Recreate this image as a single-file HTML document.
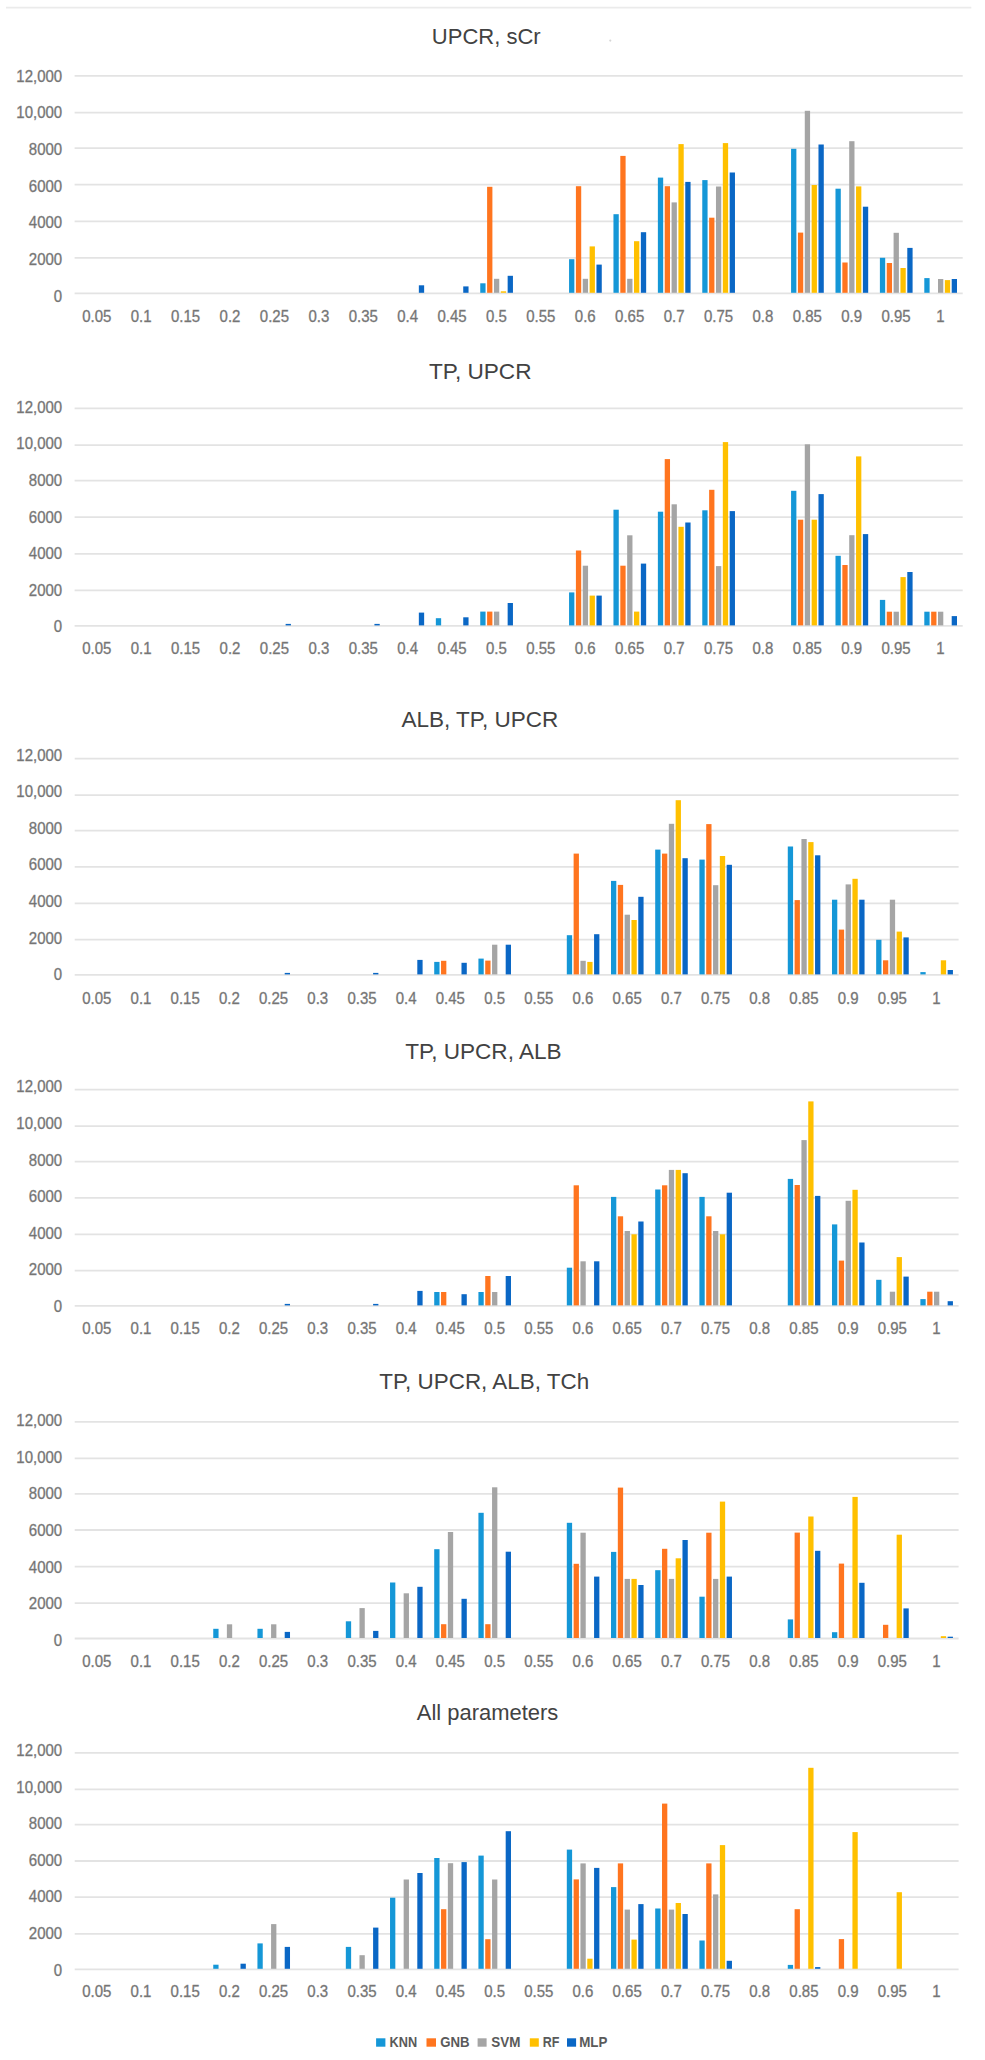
<!DOCTYPE html>
<html><head><meta charset="utf-8"><title>Charts</title>
<style>
html,body{margin:0;padding:0;background:#fff;}
body{width:985px;height:2060px;overflow:hidden;}
svg{display:block;font-family:"Liberation Sans",sans-serif;}
.ax{font-size:15.8px;fill:#6e6e6e;stroke:#8a8a8a;stroke-width:0.35px;}
.t{font-size:22.8px;fill:#424242;}
.lg{font-size:14.8px;fill:#5a5a5a;font-weight:bold;}
</style></head>
<body>
<svg width="985" height="2060" viewBox="0 0 985 2060">
<rect width="985" height="2060" fill="#fff"/>
<line x1="6" y1="7.6" x2="971.3" y2="7.6" stroke="#ebebeb" stroke-width="1.6"/><circle cx="610.3" cy="40.6" r="1.1" fill="#d6d6d6"/><g stroke="#e3e3e3" stroke-width="1.8"><line x1="74.6" y1="75.9" x2="962.7" y2="75.9"/><line x1="74.6" y1="112.6" x2="962.7" y2="112.6"/><line x1="74.6" y1="148.1" x2="962.7" y2="148.1"/><line x1="74.6" y1="184.7" x2="962.7" y2="184.7"/><line x1="74.6" y1="221.4" x2="962.7" y2="221.4"/><line x1="74.6" y1="257.8" x2="962.7" y2="257.8"/><line x1="74.6" y1="293.3" x2="962.7" y2="293.3"/></g><g fill="#1597d7"><rect x="480.25" y="283.3" width="5.3" height="9.5"/><rect x="569.06" y="259.2" width="5.3" height="33.6"/><rect x="613.46" y="214.2" width="5.3" height="78.6"/><rect x="657.87" y="177.6" width="5.3" height="115.2"/><rect x="702.27" y="180.1" width="5.3" height="112.7"/><rect x="791.08" y="148.8" width="5.3" height="144"/><rect x="835.49" y="188.7" width="5.3" height="104.1"/><rect x="879.89" y="257.8" width="5.3" height="35"/><rect x="924.3" y="278.1" width="5.3" height="14.7"/></g><g fill="#ff751f"><rect x="487.1" y="186.8" width="5.3" height="106"/><rect x="575.91" y="186.2" width="5.3" height="106.6"/><rect x="620.31" y="155.9" width="5.3" height="136.9"/><rect x="664.72" y="186.2" width="5.3" height="106.6"/><rect x="709.12" y="217.7" width="5.3" height="75.1"/><rect x="797.93" y="232.6" width="5.3" height="60.2"/><rect x="842.34" y="262.5" width="5.3" height="30.3"/><rect x="886.74" y="263" width="5.3" height="29.8"/></g><g fill="#a5a5a5"><rect x="493.95" y="278.8" width="5.3" height="14"/><rect x="582.76" y="278.8" width="5.3" height="14"/><rect x="627.16" y="278.8" width="5.3" height="14"/><rect x="671.57" y="202.4" width="5.3" height="90.4"/><rect x="715.97" y="186.5" width="5.3" height="106.3"/><rect x="804.78" y="110.8" width="5.3" height="182"/><rect x="849.19" y="141.2" width="5.3" height="151.6"/><rect x="893.59" y="232.8" width="5.3" height="60"/><rect x="938" y="279" width="5.3" height="13.8"/></g><g fill="#ffc000"><rect x="500.8" y="291.3" width="5.3" height="1.5"/><rect x="589.61" y="246.4" width="5.3" height="46.4"/><rect x="634.01" y="241.2" width="5.3" height="51.6"/><rect x="678.42" y="144.1" width="5.3" height="148.7"/><rect x="722.82" y="143.1" width="5.3" height="149.7"/><rect x="811.63" y="185" width="5.3" height="107.8"/><rect x="856.04" y="186.4" width="5.3" height="106.4"/><rect x="900.44" y="268" width="5.3" height="24.8"/><rect x="944.85" y="280.1" width="5.3" height="12.7"/></g><g fill="#0a67c5"><rect x="418.84" y="285.3" width="5.3" height="7.5"/><rect x="463.24" y="286.4" width="5.3" height="6.4"/><rect x="507.65" y="275.8" width="5.3" height="17"/><rect x="596.46" y="264.6" width="5.3" height="28.2"/><rect x="640.86" y="232.2" width="5.3" height="60.6"/><rect x="685.27" y="181.9" width="5.3" height="110.9"/><rect x="729.67" y="172.5" width="5.3" height="120.3"/><rect x="818.48" y="144.5" width="5.3" height="148.3"/><rect x="862.89" y="206.7" width="5.3" height="86.1"/><rect x="907.29" y="247.9" width="5.3" height="44.9"/><rect x="951.7" y="279" width="5.3" height="13.8"/></g><g class="ax"><g text-anchor="end"><text x="62.2" y="81.8" textLength="45.88" lengthAdjust="spacingAndGlyphs">12,000</text><text x="62.2" y="118.43" textLength="45.88" lengthAdjust="spacingAndGlyphs">10,000</text><text x="62.2" y="155.06" textLength="33.37" lengthAdjust="spacingAndGlyphs">8000</text><text x="62.2" y="191.69" textLength="33.37" lengthAdjust="spacingAndGlyphs">6000</text><text x="62.2" y="228.32" textLength="33.37" lengthAdjust="spacingAndGlyphs">4000</text><text x="62.2" y="264.95" textLength="33.37" lengthAdjust="spacingAndGlyphs">2000</text><text x="62.2" y="301.58" textLength="8.34" lengthAdjust="spacingAndGlyphs">0</text></g><g text-anchor="middle"><text x="96.8" y="321.9" textLength="29.19" lengthAdjust="spacingAndGlyphs">0.05</text><text x="141.21" y="321.9" textLength="20.85" lengthAdjust="spacingAndGlyphs">0.1</text><text x="185.61" y="321.9" textLength="29.19" lengthAdjust="spacingAndGlyphs">0.15</text><text x="230.02" y="321.9" textLength="20.85" lengthAdjust="spacingAndGlyphs">0.2</text><text x="274.42" y="321.9" textLength="29.19" lengthAdjust="spacingAndGlyphs">0.25</text><text x="318.83" y="321.9" textLength="20.85" lengthAdjust="spacingAndGlyphs">0.3</text><text x="363.23" y="321.9" textLength="29.19" lengthAdjust="spacingAndGlyphs">0.35</text><text x="407.64" y="321.9" textLength="20.85" lengthAdjust="spacingAndGlyphs">0.4</text><text x="452.04" y="321.9" textLength="29.19" lengthAdjust="spacingAndGlyphs">0.45</text><text x="496.45" y="321.9" textLength="20.85" lengthAdjust="spacingAndGlyphs">0.5</text><text x="540.85" y="321.9" textLength="29.19" lengthAdjust="spacingAndGlyphs">0.55</text><text x="585.26" y="321.9" textLength="20.85" lengthAdjust="spacingAndGlyphs">0.6</text><text x="629.66" y="321.9" textLength="29.19" lengthAdjust="spacingAndGlyphs">0.65</text><text x="674.07" y="321.9" textLength="20.85" lengthAdjust="spacingAndGlyphs">0.7</text><text x="718.47" y="321.9" textLength="29.19" lengthAdjust="spacingAndGlyphs">0.75</text><text x="762.88" y="321.9" textLength="20.85" lengthAdjust="spacingAndGlyphs">0.8</text><text x="807.28" y="321.9" textLength="29.19" lengthAdjust="spacingAndGlyphs">0.85</text><text x="851.69" y="321.9" textLength="20.85" lengthAdjust="spacingAndGlyphs">0.9</text><text x="896.09" y="321.9" textLength="29.19" lengthAdjust="spacingAndGlyphs">0.95</text><text x="940.5" y="321.9" textLength="8.34" lengthAdjust="spacingAndGlyphs">1</text></g></g><text class="t" x="431.8" y="44.2" textLength="108.89" lengthAdjust="spacingAndGlyphs">UPCR, sCr</text><g stroke="#e3e3e3" stroke-width="1.8"><line x1="74.6" y1="408.3" x2="962.7" y2="408.3"/><line x1="74.6" y1="445.1" x2="962.7" y2="445.1"/><line x1="74.6" y1="480.7" x2="962.7" y2="480.7"/><line x1="74.6" y1="517.2" x2="962.7" y2="517.2"/><line x1="74.6" y1="553.9" x2="962.7" y2="553.9"/><line x1="74.6" y1="590.4" x2="962.7" y2="590.4"/><line x1="74.6" y1="625.9" x2="962.7" y2="625.9"/></g><g fill="#1597d7"><rect x="435.84" y="618.2" width="5.3" height="7.2"/><rect x="480.25" y="611.6" width="5.3" height="13.8"/><rect x="569.06" y="592.4" width="5.3" height="33"/><rect x="613.46" y="509.7" width="5.3" height="115.7"/><rect x="657.87" y="511.7" width="5.3" height="113.7"/><rect x="702.27" y="510.3" width="5.3" height="115.1"/><rect x="791.08" y="490.8" width="5.3" height="134.6"/><rect x="835.49" y="555.8" width="5.3" height="69.6"/><rect x="879.89" y="599.9" width="5.3" height="25.5"/><rect x="924.3" y="611.7" width="5.3" height="13.7"/></g><g fill="#ff751f"><rect x="487.1" y="611.6" width="5.3" height="13.8"/><rect x="575.91" y="550.5" width="5.3" height="74.9"/><rect x="620.31" y="565.7" width="5.3" height="59.7"/><rect x="664.72" y="459.1" width="5.3" height="166.3"/><rect x="709.12" y="489.8" width="5.3" height="135.6"/><rect x="797.93" y="519.7" width="5.3" height="105.7"/><rect x="842.34" y="565" width="5.3" height="60.4"/><rect x="886.74" y="611.7" width="5.3" height="13.7"/><rect x="931.15" y="611.7" width="5.3" height="13.7"/></g><g fill="#a5a5a5"><rect x="493.95" y="611.6" width="5.3" height="13.8"/><rect x="582.76" y="565.7" width="5.3" height="59.7"/><rect x="627.16" y="535.3" width="5.3" height="90.1"/><rect x="671.57" y="504.3" width="5.3" height="121.1"/><rect x="715.97" y="566.1" width="5.3" height="59.3"/><rect x="804.78" y="444.3" width="5.3" height="181.1"/><rect x="849.19" y="535.2" width="5.3" height="90.2"/><rect x="893.59" y="611.7" width="5.3" height="13.7"/><rect x="938" y="611.7" width="5.3" height="13.7"/></g><g fill="#ffc000"><rect x="589.61" y="595.6" width="5.3" height="29.8"/><rect x="634.01" y="611.6" width="5.3" height="13.8"/><rect x="678.42" y="526.8" width="5.3" height="98.6"/><rect x="722.82" y="442.1" width="5.3" height="183.3"/><rect x="811.63" y="519.7" width="5.3" height="105.7"/><rect x="856.04" y="456.4" width="5.3" height="169"/><rect x="900.44" y="577.1" width="5.3" height="48.3"/></g><g fill="#0a67c5"><rect x="285.62" y="623.9" width="5.3" height="1.5"/><rect x="374.43" y="623.9" width="5.3" height="1.5"/><rect x="418.84" y="612.6" width="5.3" height="12.8"/><rect x="463.24" y="617.3" width="5.3" height="8.1"/><rect x="507.65" y="603" width="5.3" height="22.4"/><rect x="596.46" y="595.6" width="5.3" height="29.8"/><rect x="640.86" y="563.6" width="5.3" height="61.8"/><rect x="685.27" y="522.5" width="5.3" height="102.9"/><rect x="729.67" y="511.1" width="5.3" height="114.3"/><rect x="818.48" y="494.1" width="5.3" height="131.3"/><rect x="862.89" y="534.1" width="5.3" height="91.3"/><rect x="907.29" y="572" width="5.3" height="53.4"/><rect x="951.7" y="616.1" width="5.3" height="9.3"/></g><g class="ax"><g text-anchor="end"><text x="62.2" y="412.7" textLength="45.88" lengthAdjust="spacingAndGlyphs">12,000</text><text x="62.2" y="449.33" textLength="45.88" lengthAdjust="spacingAndGlyphs">10,000</text><text x="62.2" y="485.96" textLength="33.37" lengthAdjust="spacingAndGlyphs">8000</text><text x="62.2" y="522.59" textLength="33.37" lengthAdjust="spacingAndGlyphs">6000</text><text x="62.2" y="559.22" textLength="33.37" lengthAdjust="spacingAndGlyphs">4000</text><text x="62.2" y="595.85" textLength="33.37" lengthAdjust="spacingAndGlyphs">2000</text><text x="62.2" y="632.48" textLength="8.34" lengthAdjust="spacingAndGlyphs">0</text></g><g text-anchor="middle"><text x="96.8" y="654.4" textLength="29.19" lengthAdjust="spacingAndGlyphs">0.05</text><text x="141.21" y="654.4" textLength="20.85" lengthAdjust="spacingAndGlyphs">0.1</text><text x="185.61" y="654.4" textLength="29.19" lengthAdjust="spacingAndGlyphs">0.15</text><text x="230.02" y="654.4" textLength="20.85" lengthAdjust="spacingAndGlyphs">0.2</text><text x="274.42" y="654.4" textLength="29.19" lengthAdjust="spacingAndGlyphs">0.25</text><text x="318.83" y="654.4" textLength="20.85" lengthAdjust="spacingAndGlyphs">0.3</text><text x="363.23" y="654.4" textLength="29.19" lengthAdjust="spacingAndGlyphs">0.35</text><text x="407.64" y="654.4" textLength="20.85" lengthAdjust="spacingAndGlyphs">0.4</text><text x="452.04" y="654.4" textLength="29.19" lengthAdjust="spacingAndGlyphs">0.45</text><text x="496.45" y="654.4" textLength="20.85" lengthAdjust="spacingAndGlyphs">0.5</text><text x="540.85" y="654.4" textLength="29.19" lengthAdjust="spacingAndGlyphs">0.55</text><text x="585.26" y="654.4" textLength="20.85" lengthAdjust="spacingAndGlyphs">0.6</text><text x="629.66" y="654.4" textLength="29.19" lengthAdjust="spacingAndGlyphs">0.65</text><text x="674.07" y="654.4" textLength="20.85" lengthAdjust="spacingAndGlyphs">0.7</text><text x="718.47" y="654.4" textLength="29.19" lengthAdjust="spacingAndGlyphs">0.75</text><text x="762.88" y="654.4" textLength="20.85" lengthAdjust="spacingAndGlyphs">0.8</text><text x="807.28" y="654.4" textLength="29.19" lengthAdjust="spacingAndGlyphs">0.85</text><text x="851.69" y="654.4" textLength="20.85" lengthAdjust="spacingAndGlyphs">0.9</text><text x="896.09" y="654.4" textLength="29.19" lengthAdjust="spacingAndGlyphs">0.95</text><text x="940.5" y="654.4" textLength="8.34" lengthAdjust="spacingAndGlyphs">1</text></g></g><text class="t" x="428.9" y="379" textLength="102.66" lengthAdjust="spacingAndGlyphs">TP, UPCR</text><g stroke="#e3e3e3" stroke-width="1.8"><line x1="74.7" y1="758.6" x2="958.6" y2="758.6"/><line x1="74.7" y1="795.1" x2="958.6" y2="795.1"/><line x1="74.7" y1="830.7" x2="958.6" y2="830.7"/><line x1="74.7" y1="866.9" x2="958.6" y2="866.9"/><line x1="74.7" y1="903.4" x2="958.6" y2="903.4"/><line x1="74.7" y1="939.7" x2="958.6" y2="939.7"/><line x1="74.7" y1="974.9" x2="958.6" y2="974.9"/></g><g fill="#1597d7"><rect x="434.22" y="961.9" width="5.3" height="12.5"/><rect x="478.42" y="958.6" width="5.3" height="15.8"/><rect x="566.81" y="935.2" width="5.3" height="39.2"/><rect x="611" y="880.9" width="5.3" height="93.5"/><rect x="655.2" y="849.6" width="5.3" height="124.8"/><rect x="699.39" y="859.6" width="5.3" height="114.8"/><rect x="787.78" y="846.5" width="5.3" height="127.9"/><rect x="831.98" y="899.7" width="5.3" height="74.7"/><rect x="876.17" y="939.8" width="5.3" height="34.6"/><rect x="920.37" y="972.1" width="5.3" height="2.3"/></g><g fill="#ff751f"><rect x="441.04" y="960.8" width="5.3" height="13.6"/><rect x="485.23" y="960.6" width="5.3" height="13.8"/><rect x="573.62" y="853.6" width="5.3" height="120.8"/><rect x="617.82" y="884.9" width="5.3" height="89.5"/><rect x="662.01" y="853.6" width="5.3" height="120.8"/><rect x="706.21" y="824.1" width="5.3" height="150.3"/><rect x="794.6" y="900.1" width="5.3" height="74.3"/><rect x="838.79" y="929.6" width="5.3" height="44.8"/><rect x="882.99" y="960.3" width="5.3" height="14.1"/></g><g fill="#a5a5a5"><rect x="492.05" y="944.7" width="5.3" height="29.7"/><rect x="580.44" y="960.8" width="5.3" height="13.6"/><rect x="624.64" y="914.7" width="5.3" height="59.7"/><rect x="668.83" y="823.8" width="5.3" height="150.6"/><rect x="713.03" y="885.2" width="5.3" height="89.2"/><rect x="801.42" y="839" width="5.3" height="135.4"/><rect x="845.61" y="884.4" width="5.3" height="90"/><rect x="889.81" y="899.7" width="5.3" height="74.7"/></g><g fill="#ffc000"><rect x="587.26" y="961.9" width="5.3" height="12.5"/><rect x="631.46" y="920" width="5.3" height="54.4"/><rect x="675.65" y="800.2" width="5.3" height="174.2"/><rect x="719.85" y="856" width="5.3" height="118.4"/><rect x="808.24" y="842.1" width="5.3" height="132.3"/><rect x="852.43" y="878.8" width="5.3" height="95.6"/><rect x="896.63" y="931.6" width="5.3" height="42.8"/><rect x="940.82" y="960.3" width="5.3" height="14.1"/></g><g fill="#0a67c5"><rect x="284.71" y="972.9" width="5.3" height="1.5"/><rect x="373.1" y="972.9" width="5.3" height="1.5"/><rect x="417.3" y="959.9" width="5.3" height="14.5"/><rect x="461.49" y="962.8" width="5.3" height="11.6"/><rect x="505.69" y="944.7" width="5.3" height="29.7"/><rect x="594.08" y="934.2" width="5.3" height="40.2"/><rect x="638.27" y="896.8" width="5.3" height="77.6"/><rect x="682.47" y="858.2" width="5.3" height="116.2"/><rect x="726.66" y="864.8" width="5.3" height="109.6"/><rect x="815.05" y="855.3" width="5.3" height="119.1"/><rect x="859.25" y="899.7" width="5.3" height="74.7"/><rect x="903.44" y="937.4" width="5.3" height="37"/><rect x="947.64" y="970" width="5.3" height="4.4"/></g><g class="ax"><g text-anchor="end"><text x="62.2" y="760.6" textLength="45.88" lengthAdjust="spacingAndGlyphs">12,000</text><text x="62.2" y="797.23" textLength="45.88" lengthAdjust="spacingAndGlyphs">10,000</text><text x="62.2" y="833.86" textLength="33.37" lengthAdjust="spacingAndGlyphs">8000</text><text x="62.2" y="870.49" textLength="33.37" lengthAdjust="spacingAndGlyphs">6000</text><text x="62.2" y="907.12" textLength="33.37" lengthAdjust="spacingAndGlyphs">4000</text><text x="62.2" y="943.75" textLength="33.37" lengthAdjust="spacingAndGlyphs">2000</text><text x="62.2" y="980.38" textLength="8.34" lengthAdjust="spacingAndGlyphs">0</text></g><g text-anchor="middle"><text x="96.8" y="1003.7" textLength="29.19" lengthAdjust="spacingAndGlyphs">0.05</text><text x="140.99" y="1003.7" textLength="20.85" lengthAdjust="spacingAndGlyphs">0.1</text><text x="185.19" y="1003.7" textLength="29.19" lengthAdjust="spacingAndGlyphs">0.15</text><text x="229.38" y="1003.7" textLength="20.85" lengthAdjust="spacingAndGlyphs">0.2</text><text x="273.58" y="1003.7" textLength="29.19" lengthAdjust="spacingAndGlyphs">0.25</text><text x="317.77" y="1003.7" textLength="20.85" lengthAdjust="spacingAndGlyphs">0.3</text><text x="361.97" y="1003.7" textLength="29.19" lengthAdjust="spacingAndGlyphs">0.35</text><text x="406.16" y="1003.7" textLength="20.85" lengthAdjust="spacingAndGlyphs">0.4</text><text x="450.36" y="1003.7" textLength="29.19" lengthAdjust="spacingAndGlyphs">0.45</text><text x="494.55" y="1003.7" textLength="20.85" lengthAdjust="spacingAndGlyphs">0.5</text><text x="538.75" y="1003.7" textLength="29.19" lengthAdjust="spacingAndGlyphs">0.55</text><text x="582.94" y="1003.7" textLength="20.85" lengthAdjust="spacingAndGlyphs">0.6</text><text x="627.14" y="1003.7" textLength="29.19" lengthAdjust="spacingAndGlyphs">0.65</text><text x="671.33" y="1003.7" textLength="20.85" lengthAdjust="spacingAndGlyphs">0.7</text><text x="715.53" y="1003.7" textLength="29.19" lengthAdjust="spacingAndGlyphs">0.75</text><text x="759.72" y="1003.7" textLength="20.85" lengthAdjust="spacingAndGlyphs">0.8</text><text x="803.92" y="1003.7" textLength="29.19" lengthAdjust="spacingAndGlyphs">0.85</text><text x="848.11" y="1003.7" textLength="20.85" lengthAdjust="spacingAndGlyphs">0.9</text><text x="892.31" y="1003.7" textLength="29.19" lengthAdjust="spacingAndGlyphs">0.95</text><text x="936.5" y="1003.7" textLength="8.34" lengthAdjust="spacingAndGlyphs">1</text></g></g><text class="t" x="401.4" y="727.1" textLength="156.92" lengthAdjust="spacingAndGlyphs">ALB, TP, UPCR</text><g stroke="#e3e3e3" stroke-width="1.8"><line x1="74.7" y1="1089.6" x2="958.6" y2="1089.6"/><line x1="74.7" y1="1126.1" x2="958.6" y2="1126.1"/><line x1="74.7" y1="1161.7" x2="958.6" y2="1161.7"/><line x1="74.7" y1="1197.9" x2="958.6" y2="1197.9"/><line x1="74.7" y1="1234.4" x2="958.6" y2="1234.4"/><line x1="74.7" y1="1270.7" x2="958.6" y2="1270.7"/><line x1="74.7" y1="1305.9" x2="958.6" y2="1305.9"/></g><g fill="#1597d7"><rect x="434.22" y="1292" width="5.3" height="13.4"/><rect x="478.42" y="1292" width="5.3" height="13.4"/><rect x="566.81" y="1267.7" width="5.3" height="37.7"/><rect x="611" y="1196.9" width="5.3" height="108.5"/><rect x="655.2" y="1189.5" width="5.3" height="115.9"/><rect x="699.39" y="1196.9" width="5.3" height="108.5"/><rect x="787.78" y="1178.9" width="5.3" height="126.5"/><rect x="831.98" y="1224.4" width="5.3" height="81"/><rect x="876.17" y="1279.8" width="5.3" height="25.6"/><rect x="920.37" y="1299.1" width="5.3" height="6.3"/></g><g fill="#ff751f"><rect x="441.04" y="1292" width="5.3" height="13.4"/><rect x="485.23" y="1276" width="5.3" height="29.4"/><rect x="573.62" y="1185.3" width="5.3" height="120.1"/><rect x="617.82" y="1216.3" width="5.3" height="89.1"/><rect x="662.01" y="1185.3" width="5.3" height="120.1"/><rect x="706.21" y="1216.3" width="5.3" height="89.1"/><rect x="794.6" y="1185" width="5.3" height="120.4"/><rect x="838.79" y="1260.6" width="5.3" height="44.8"/><rect x="927.18" y="1291.7" width="5.3" height="13.7"/></g><g fill="#a5a5a5"><rect x="492.05" y="1292" width="5.3" height="13.4"/><rect x="580.44" y="1261.3" width="5.3" height="44.1"/><rect x="624.64" y="1231" width="5.3" height="74.4"/><rect x="668.83" y="1169.9" width="5.3" height="135.5"/><rect x="713.03" y="1231" width="5.3" height="74.4"/><rect x="801.42" y="1140.1" width="5.3" height="165.3"/><rect x="845.61" y="1200.8" width="5.3" height="104.6"/><rect x="889.81" y="1291.7" width="5.3" height="13.7"/><rect x="934" y="1291.7" width="5.3" height="13.7"/></g><g fill="#ffc000"><rect x="631.46" y="1234.3" width="5.3" height="71.1"/><rect x="675.65" y="1169.9" width="5.3" height="135.5"/><rect x="719.85" y="1234.3" width="5.3" height="71.1"/><rect x="808.24" y="1101.4" width="5.3" height="204"/><rect x="852.43" y="1189.8" width="5.3" height="115.6"/><rect x="896.63" y="1257.1" width="5.3" height="48.3"/></g><g fill="#0a67c5"><rect x="284.71" y="1303.9" width="5.3" height="1.5"/><rect x="373.1" y="1303.9" width="5.3" height="1.5"/><rect x="417.3" y="1290.9" width="5.3" height="14.5"/><rect x="461.49" y="1294.2" width="5.3" height="11.2"/><rect x="505.69" y="1276" width="5.3" height="29.4"/><rect x="594.08" y="1261.3" width="5.3" height="44.1"/><rect x="638.27" y="1221.5" width="5.3" height="83.9"/><rect x="682.47" y="1173.2" width="5.3" height="132.2"/><rect x="726.66" y="1192.7" width="5.3" height="112.7"/><rect x="815.05" y="1195.9" width="5.3" height="109.5"/><rect x="859.25" y="1242.5" width="5.3" height="62.9"/><rect x="903.44" y="1276.6" width="5.3" height="28.8"/><rect x="947.64" y="1301.2" width="5.3" height="4.2"/></g><g class="ax"><g text-anchor="end"><text x="62.2" y="1092.3" textLength="45.88" lengthAdjust="spacingAndGlyphs">12,000</text><text x="62.2" y="1128.93" textLength="45.88" lengthAdjust="spacingAndGlyphs">10,000</text><text x="62.2" y="1165.56" textLength="33.37" lengthAdjust="spacingAndGlyphs">8000</text><text x="62.2" y="1202.19" textLength="33.37" lengthAdjust="spacingAndGlyphs">6000</text><text x="62.2" y="1238.82" textLength="33.37" lengthAdjust="spacingAndGlyphs">4000</text><text x="62.2" y="1275.45" textLength="33.37" lengthAdjust="spacingAndGlyphs">2000</text><text x="62.2" y="1312.08" textLength="8.34" lengthAdjust="spacingAndGlyphs">0</text></g><g text-anchor="middle"><text x="96.8" y="1334.4" textLength="29.19" lengthAdjust="spacingAndGlyphs">0.05</text><text x="140.99" y="1334.4" textLength="20.85" lengthAdjust="spacingAndGlyphs">0.1</text><text x="185.19" y="1334.4" textLength="29.19" lengthAdjust="spacingAndGlyphs">0.15</text><text x="229.38" y="1334.4" textLength="20.85" lengthAdjust="spacingAndGlyphs">0.2</text><text x="273.58" y="1334.4" textLength="29.19" lengthAdjust="spacingAndGlyphs">0.25</text><text x="317.77" y="1334.4" textLength="20.85" lengthAdjust="spacingAndGlyphs">0.3</text><text x="361.97" y="1334.4" textLength="29.19" lengthAdjust="spacingAndGlyphs">0.35</text><text x="406.16" y="1334.4" textLength="20.85" lengthAdjust="spacingAndGlyphs">0.4</text><text x="450.36" y="1334.4" textLength="29.19" lengthAdjust="spacingAndGlyphs">0.45</text><text x="494.55" y="1334.4" textLength="20.85" lengthAdjust="spacingAndGlyphs">0.5</text><text x="538.75" y="1334.4" textLength="29.19" lengthAdjust="spacingAndGlyphs">0.55</text><text x="582.94" y="1334.4" textLength="20.85" lengthAdjust="spacingAndGlyphs">0.6</text><text x="627.14" y="1334.4" textLength="29.19" lengthAdjust="spacingAndGlyphs">0.65</text><text x="671.33" y="1334.4" textLength="20.85" lengthAdjust="spacingAndGlyphs">0.7</text><text x="715.53" y="1334.4" textLength="29.19" lengthAdjust="spacingAndGlyphs">0.75</text><text x="759.72" y="1334.4" textLength="20.85" lengthAdjust="spacingAndGlyphs">0.8</text><text x="803.92" y="1334.4" textLength="29.19" lengthAdjust="spacingAndGlyphs">0.85</text><text x="848.11" y="1334.4" textLength="20.85" lengthAdjust="spacingAndGlyphs">0.9</text><text x="892.31" y="1334.4" textLength="29.19" lengthAdjust="spacingAndGlyphs">0.95</text><text x="936.5" y="1334.4" textLength="8.34" lengthAdjust="spacingAndGlyphs">1</text></g></g><text class="t" x="405.2" y="1059" textLength="156.48" lengthAdjust="spacingAndGlyphs">TP, UPCR, ALB</text><g stroke="#e3e3e3" stroke-width="1.8"><line x1="74.7" y1="1421.8" x2="958.6" y2="1421.8"/><line x1="74.7" y1="1458.4" x2="958.6" y2="1458.4"/><line x1="74.7" y1="1493.9" x2="958.6" y2="1493.9"/><line x1="74.7" y1="1530" x2="958.6" y2="1530"/><line x1="74.7" y1="1566.6" x2="958.6" y2="1566.6"/><line x1="74.7" y1="1603.1" x2="958.6" y2="1603.1"/><line x1="74.7" y1="1638.5" x2="958.6" y2="1638.5"/></g><g fill="#1597d7"><rect x="213.25" y="1628.8" width="5.3" height="9.2"/><rect x="257.44" y="1628.8" width="5.3" height="9.2"/><rect x="345.83" y="1621.3" width="5.3" height="16.7"/><rect x="390.03" y="1582.5" width="5.3" height="55.5"/><rect x="434.22" y="1549.2" width="5.3" height="88.8"/><rect x="478.42" y="1512.8" width="5.3" height="125.2"/><rect x="566.81" y="1522.8" width="5.3" height="115.2"/><rect x="611" y="1551.9" width="5.3" height="86.1"/><rect x="655.2" y="1570.2" width="5.3" height="67.8"/><rect x="699.39" y="1596.7" width="5.3" height="41.3"/><rect x="787.78" y="1619.4" width="5.3" height="18.6"/><rect x="831.98" y="1632.2" width="5.3" height="5.8"/></g><g fill="#ff751f"><rect x="441.04" y="1624.2" width="5.3" height="13.8"/><rect x="485.23" y="1624.2" width="5.3" height="13.8"/><rect x="573.62" y="1563.8" width="5.3" height="74.2"/><rect x="617.82" y="1487.6" width="5.3" height="150.4"/><rect x="662.01" y="1548.8" width="5.3" height="89.2"/><rect x="706.21" y="1532.7" width="5.3" height="105.3"/><rect x="794.6" y="1532.6" width="5.3" height="105.4"/><rect x="838.79" y="1563.6" width="5.3" height="74.4"/><rect x="882.99" y="1624.8" width="5.3" height="13.2"/></g><g fill="#a5a5a5"><rect x="226.88" y="1624.3" width="5.3" height="13.7"/><rect x="271.08" y="1624.3" width="5.3" height="13.7"/><rect x="359.47" y="1608.1" width="5.3" height="29.9"/><rect x="403.66" y="1593.3" width="5.3" height="44.7"/><rect x="447.86" y="1532" width="5.3" height="106"/><rect x="492.05" y="1487.3" width="5.3" height="150.7"/><rect x="580.44" y="1532.7" width="5.3" height="105.3"/><rect x="624.64" y="1578.9" width="5.3" height="59.1"/><rect x="668.83" y="1578.9" width="5.3" height="59.1"/><rect x="713.03" y="1578.9" width="5.3" height="59.1"/></g><g fill="#ffc000"><rect x="631.46" y="1578.9" width="5.3" height="59.1"/><rect x="675.65" y="1558.3" width="5.3" height="79.7"/><rect x="719.85" y="1501.6" width="5.3" height="136.4"/><rect x="808.24" y="1516.5" width="5.3" height="121.5"/><rect x="852.43" y="1496.9" width="5.3" height="141.1"/><rect x="896.63" y="1534.7" width="5.3" height="103.3"/><rect x="940.82" y="1636.2" width="5.3" height="1.8"/></g><g fill="#0a67c5"><rect x="284.71" y="1631.9" width="5.3" height="6.1"/><rect x="373.1" y="1630.9" width="5.3" height="7.1"/><rect x="417.3" y="1586.8" width="5.3" height="51.2"/><rect x="461.49" y="1598.8" width="5.3" height="39.2"/><rect x="505.69" y="1551.7" width="5.3" height="86.3"/><rect x="594.08" y="1576.6" width="5.3" height="61.4"/><rect x="638.27" y="1585" width="5.3" height="53"/><rect x="682.47" y="1540" width="5.3" height="98"/><rect x="726.66" y="1576.6" width="5.3" height="61.4"/><rect x="815.05" y="1550.8" width="5.3" height="87.2"/><rect x="859.25" y="1582.8" width="5.3" height="55.2"/><rect x="903.44" y="1608.4" width="5.3" height="29.6"/><rect x="947.64" y="1636.7" width="5.3" height="1.3"/></g><g class="ax"><g text-anchor="end"><text x="62.2" y="1426.2" textLength="45.88" lengthAdjust="spacingAndGlyphs">12,000</text><text x="62.2" y="1462.83" textLength="45.88" lengthAdjust="spacingAndGlyphs">10,000</text><text x="62.2" y="1499.46" textLength="33.37" lengthAdjust="spacingAndGlyphs">8000</text><text x="62.2" y="1536.09" textLength="33.37" lengthAdjust="spacingAndGlyphs">6000</text><text x="62.2" y="1572.72" textLength="33.37" lengthAdjust="spacingAndGlyphs">4000</text><text x="62.2" y="1609.35" textLength="33.37" lengthAdjust="spacingAndGlyphs">2000</text><text x="62.2" y="1645.98" textLength="8.34" lengthAdjust="spacingAndGlyphs">0</text></g><g text-anchor="middle"><text x="96.8" y="1666.7" textLength="29.19" lengthAdjust="spacingAndGlyphs">0.05</text><text x="140.99" y="1666.7" textLength="20.85" lengthAdjust="spacingAndGlyphs">0.1</text><text x="185.19" y="1666.7" textLength="29.19" lengthAdjust="spacingAndGlyphs">0.15</text><text x="229.38" y="1666.7" textLength="20.85" lengthAdjust="spacingAndGlyphs">0.2</text><text x="273.58" y="1666.7" textLength="29.19" lengthAdjust="spacingAndGlyphs">0.25</text><text x="317.77" y="1666.7" textLength="20.85" lengthAdjust="spacingAndGlyphs">0.3</text><text x="361.97" y="1666.7" textLength="29.19" lengthAdjust="spacingAndGlyphs">0.35</text><text x="406.16" y="1666.7" textLength="20.85" lengthAdjust="spacingAndGlyphs">0.4</text><text x="450.36" y="1666.7" textLength="29.19" lengthAdjust="spacingAndGlyphs">0.45</text><text x="494.55" y="1666.7" textLength="20.85" lengthAdjust="spacingAndGlyphs">0.5</text><text x="538.75" y="1666.7" textLength="29.19" lengthAdjust="spacingAndGlyphs">0.55</text><text x="582.94" y="1666.7" textLength="20.85" lengthAdjust="spacingAndGlyphs">0.6</text><text x="627.14" y="1666.7" textLength="29.19" lengthAdjust="spacingAndGlyphs">0.65</text><text x="671.33" y="1666.7" textLength="20.85" lengthAdjust="spacingAndGlyphs">0.7</text><text x="715.53" y="1666.7" textLength="29.19" lengthAdjust="spacingAndGlyphs">0.75</text><text x="759.72" y="1666.7" textLength="20.85" lengthAdjust="spacingAndGlyphs">0.8</text><text x="803.92" y="1666.7" textLength="29.19" lengthAdjust="spacingAndGlyphs">0.85</text><text x="848.11" y="1666.7" textLength="20.85" lengthAdjust="spacingAndGlyphs">0.9</text><text x="892.31" y="1666.7" textLength="29.19" lengthAdjust="spacingAndGlyphs">0.95</text><text x="936.5" y="1666.7" textLength="8.34" lengthAdjust="spacingAndGlyphs">1</text></g></g><text class="t" x="379.3" y="1389" textLength="209.82" lengthAdjust="spacingAndGlyphs">TP, UPCR, ALB, TCh</text><g stroke="#e3e3e3" stroke-width="1.8"><line x1="74.7" y1="1752.8" x2="958.6" y2="1752.8"/><line x1="74.7" y1="1789.4" x2="958.6" y2="1789.4"/><line x1="74.7" y1="1824.7" x2="958.6" y2="1824.7"/><line x1="74.7" y1="1861" x2="958.6" y2="1861"/><line x1="74.7" y1="1897.2" x2="958.6" y2="1897.2"/><line x1="74.7" y1="1933.8" x2="958.6" y2="1933.8"/><line x1="74.7" y1="1969.3" x2="958.6" y2="1969.3"/></g><g fill="#1597d7"><rect x="213.25" y="1964.7" width="5.3" height="4.1"/><rect x="257.44" y="1943.4" width="5.3" height="25.4"/><rect x="345.83" y="1946.9" width="5.3" height="21.9"/><rect x="390.03" y="1897.7" width="5.3" height="71.1"/><rect x="434.22" y="1858" width="5.3" height="110.8"/><rect x="478.42" y="1855.6" width="5.3" height="113.2"/><rect x="566.81" y="1849.6" width="5.3" height="119.2"/><rect x="611" y="1887.1" width="5.3" height="81.7"/><rect x="655.2" y="1908.5" width="5.3" height="60.3"/><rect x="699.39" y="1940.5" width="5.3" height="28.3"/><rect x="787.78" y="1964.9" width="5.3" height="3.9"/></g><g fill="#ff751f"><rect x="441.04" y="1909.2" width="5.3" height="59.6"/><rect x="485.23" y="1939.2" width="5.3" height="29.6"/><rect x="573.62" y="1879.4" width="5.3" height="89.4"/><rect x="617.82" y="1863.4" width="5.3" height="105.4"/><rect x="662.01" y="1803.6" width="5.3" height="165.2"/><rect x="706.21" y="1863.4" width="5.3" height="105.4"/><rect x="794.6" y="1909.2" width="5.3" height="59.6"/><rect x="838.79" y="1939.1" width="5.3" height="29.7"/></g><g fill="#a5a5a5"><rect x="271.08" y="1924.1" width="5.3" height="44.7"/><rect x="359.47" y="1955.2" width="5.3" height="13.6"/><rect x="403.66" y="1879.5" width="5.3" height="89.3"/><rect x="447.86" y="1863.2" width="5.3" height="105.6"/><rect x="492.05" y="1879.5" width="5.3" height="89.3"/><rect x="580.44" y="1863.4" width="5.3" height="105.4"/><rect x="624.64" y="1909.6" width="5.3" height="59.2"/><rect x="668.83" y="1909.6" width="5.3" height="59.2"/><rect x="713.03" y="1894.4" width="5.3" height="74.4"/></g><g fill="#ffc000"><rect x="587.26" y="1958.7" width="5.3" height="10.1"/><rect x="631.46" y="1939.6" width="5.3" height="29.2"/><rect x="675.65" y="1903" width="5.3" height="65.8"/><rect x="719.85" y="1845.1" width="5.3" height="123.7"/><rect x="808.24" y="1767.8" width="5.3" height="201"/><rect x="852.43" y="1832.1" width="5.3" height="136.7"/><rect x="896.63" y="1892.2" width="5.3" height="76.6"/></g><g fill="#0a67c5"><rect x="240.52" y="1963.7" width="5.3" height="5.1"/><rect x="284.71" y="1946.9" width="5.3" height="21.9"/><rect x="373.1" y="1927.6" width="5.3" height="41.2"/><rect x="417.3" y="1873" width="5.3" height="95.8"/><rect x="461.49" y="1862.1" width="5.3" height="106.7"/><rect x="505.69" y="1831.2" width="5.3" height="137.6"/><rect x="594.08" y="1867.9" width="5.3" height="100.9"/><rect x="638.27" y="1904.1" width="5.3" height="64.7"/><rect x="682.47" y="1914" width="5.3" height="54.8"/><rect x="726.66" y="1960.8" width="5.3" height="8"/><rect x="815.05" y="1967.1" width="5.3" height="1.7"/></g><g class="ax"><g text-anchor="end"><text x="62.2" y="1755.9" textLength="45.88" lengthAdjust="spacingAndGlyphs">12,000</text><text x="62.2" y="1792.53" textLength="45.88" lengthAdjust="spacingAndGlyphs">10,000</text><text x="62.2" y="1829.16" textLength="33.37" lengthAdjust="spacingAndGlyphs">8000</text><text x="62.2" y="1865.79" textLength="33.37" lengthAdjust="spacingAndGlyphs">6000</text><text x="62.2" y="1902.42" textLength="33.37" lengthAdjust="spacingAndGlyphs">4000</text><text x="62.2" y="1939.05" textLength="33.37" lengthAdjust="spacingAndGlyphs">2000</text><text x="62.2" y="1975.68" textLength="8.34" lengthAdjust="spacingAndGlyphs">0</text></g><g text-anchor="middle"><text x="96.8" y="1997.3" textLength="29.19" lengthAdjust="spacingAndGlyphs">0.05</text><text x="140.99" y="1997.3" textLength="20.85" lengthAdjust="spacingAndGlyphs">0.1</text><text x="185.19" y="1997.3" textLength="29.19" lengthAdjust="spacingAndGlyphs">0.15</text><text x="229.38" y="1997.3" textLength="20.85" lengthAdjust="spacingAndGlyphs">0.2</text><text x="273.58" y="1997.3" textLength="29.19" lengthAdjust="spacingAndGlyphs">0.25</text><text x="317.77" y="1997.3" textLength="20.85" lengthAdjust="spacingAndGlyphs">0.3</text><text x="361.97" y="1997.3" textLength="29.19" lengthAdjust="spacingAndGlyphs">0.35</text><text x="406.16" y="1997.3" textLength="20.85" lengthAdjust="spacingAndGlyphs">0.4</text><text x="450.36" y="1997.3" textLength="29.19" lengthAdjust="spacingAndGlyphs">0.45</text><text x="494.55" y="1997.3" textLength="20.85" lengthAdjust="spacingAndGlyphs">0.5</text><text x="538.75" y="1997.3" textLength="29.19" lengthAdjust="spacingAndGlyphs">0.55</text><text x="582.94" y="1997.3" textLength="20.85" lengthAdjust="spacingAndGlyphs">0.6</text><text x="627.14" y="1997.3" textLength="29.19" lengthAdjust="spacingAndGlyphs">0.65</text><text x="671.33" y="1997.3" textLength="20.85" lengthAdjust="spacingAndGlyphs">0.7</text><text x="715.53" y="1997.3" textLength="29.19" lengthAdjust="spacingAndGlyphs">0.75</text><text x="759.72" y="1997.3" textLength="20.85" lengthAdjust="spacingAndGlyphs">0.8</text><text x="803.92" y="1997.3" textLength="29.19" lengthAdjust="spacingAndGlyphs">0.85</text><text x="848.11" y="1997.3" textLength="20.85" lengthAdjust="spacingAndGlyphs">0.9</text><text x="892.31" y="1997.3" textLength="29.19" lengthAdjust="spacingAndGlyphs">0.95</text><text x="936.5" y="1997.3" textLength="8.34" lengthAdjust="spacingAndGlyphs">1</text></g></g><text class="t" x="416.8" y="1720.2" textLength="141.55" lengthAdjust="spacingAndGlyphs">All parameters</text><g class="lg"><rect x="376.1" y="2038.3" width="9.3" height="8.4" fill="#1597d7"/><text x="389.5" y="2047.2" textLength="27.62" lengthAdjust="spacingAndGlyphs">KNN</text><rect x="426.5" y="2038.3" width="9.5" height="8.4" fill="#ff751f"/><text x="440.3" y="2047.2" textLength="29.33" lengthAdjust="spacingAndGlyphs">GNB</text><rect x="477.6" y="2038.3" width="9" height="8.4" fill="#a5a5a5"/><text x="491.3" y="2047.2" textLength="29.13" lengthAdjust="spacingAndGlyphs">SVM</text><rect x="529.8" y="2038.3" width="9" height="8.4" fill="#ffc000"/><text x="542.8" y="2047.2" textLength="16.67" lengthAdjust="spacingAndGlyphs">RF</text><rect x="567" y="2038.3" width="9.1" height="8.4" fill="#0a67c5"/><text x="579.2" y="2047.2" textLength="28.21" lengthAdjust="spacingAndGlyphs">MLP</text></g>
</svg>
</body></html>
